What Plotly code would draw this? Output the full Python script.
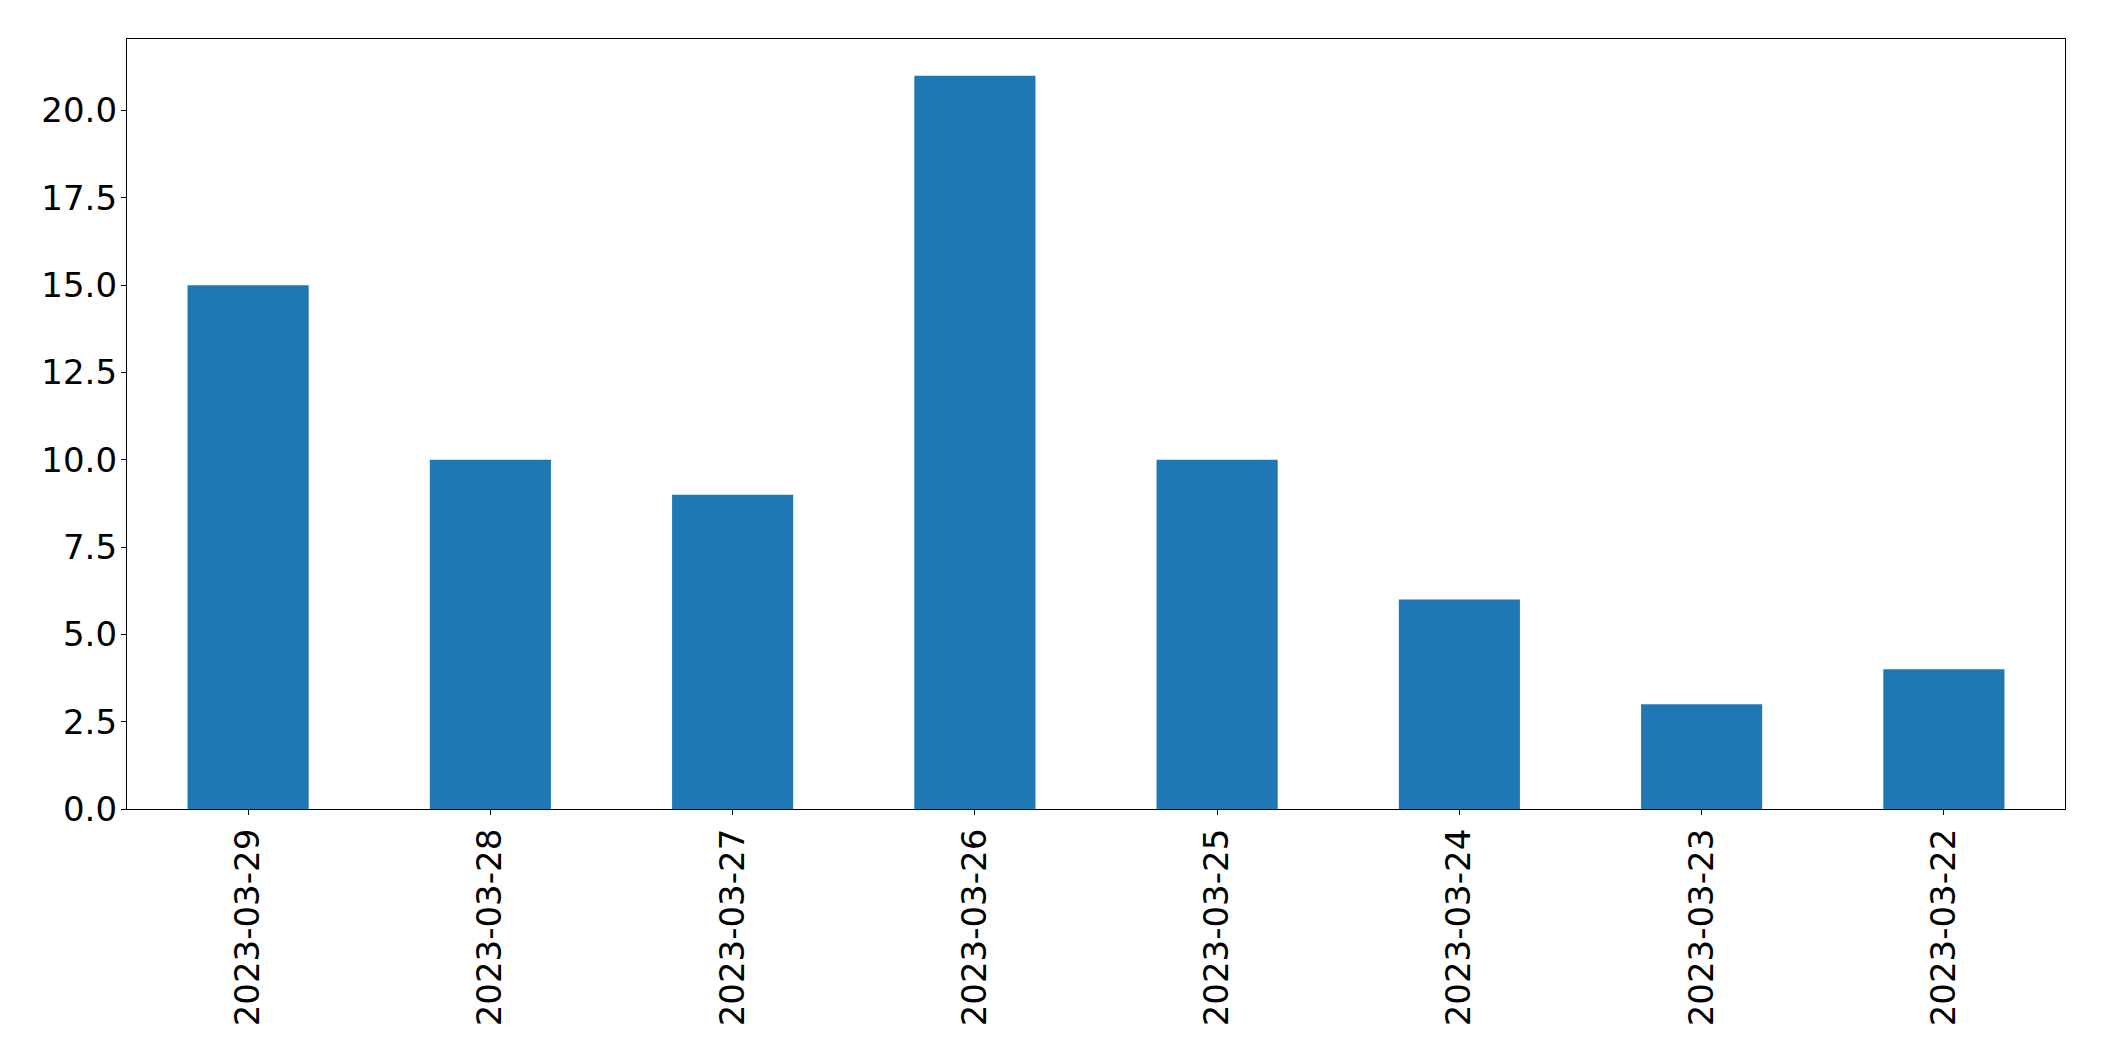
import plotly.graph_objects as go

dates = ["2023-03-29", "2023-03-28", "2023-03-27", "2023-03-26",
         "2023-03-25", "2023-03-24", "2023-03-23", "2023-03-22"]
counts = [15, 10, 9, 21, 10, 6, 3, 4]
ytick_vals = [0, 2.5, 5, 7.5, 10, 12.5, 15, 17.5, 20]
ytick_text = [f"{v:.1f}" for v in ytick_vals]

fig = go.Figure(go.Bar(x=dates, y=counts, marker=dict(color="#1f77b4", line=dict(width=0))))

axis_common = dict(showline=True, linecolor="black", linewidth=1.3, mirror=True,
                   showgrid=False, zeroline=False, ticks="outside", ticklen=5,
                   tickwidth=1.3, tickcolor="black",
                   tickfont=dict(family="DejaVu Sans", size=34, color="black"))

fig.update_layout(
    width=2088, height=1045,
    margin=dict(l=119, r=31, t=31, b=244, autoexpand=False),
    paper_bgcolor="white", plot_bgcolor="white",
    bargap=0.5, showlegend=False,
    xaxis=dict(type="category", tickangle=-90, range=[-0.5, 7.5], automargin=False, **axis_common),
    yaxis=dict(range=[0, 22.05], tickvals=ytick_vals, ticktext=ytick_text, automargin=False,
               ticklabelstandoff=-3, **axis_common),
)

fig.write_html("out.html")
